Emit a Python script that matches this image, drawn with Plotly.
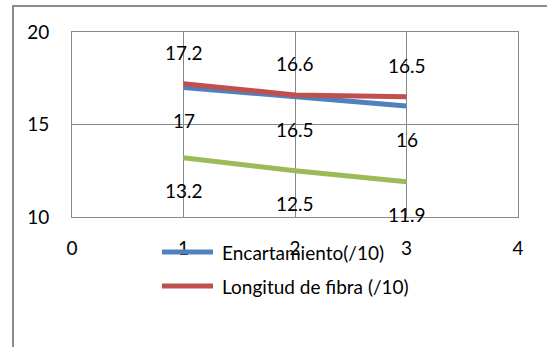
import plotly.graph_objects as go

# Chart data
x_vals = [1, 2, 3]
encartamiento = [17, 16.5, 16]
longitud_fibra = [17.2, 16.6, 16.5]
tercera_serie = [13.2, 12.5, 11.9]
series_names = ["Encartamiento(/10)", "Longitud de fibra (/10)"]
x_ticks = [0, 1, 2, 3, 4]
y_ticks = [10, 15, 20]

BLUE = "#4F81BD"
RED = "#C0504D"
GREEN = "#9BBB59"
GRID = "#898989"
FONT = "Lato"
FSIZE = 19

W, H = 547, 347
L, R, T, B = 72, 518, 32, 217  # plot-area pixel edges
PW, PH = R - L, B - T


def px(xp):
    return (xp - L) / PW


def py(yp):
    return (B - yp) / PH


fig = go.Figure()

series = [
    (encartamiento, BLUE, -33),
    (longitud_fibra, RED, 31),
    (tercera_serie, GREEN, -33),
]
for vals, color, _ in series:
    fig.add_trace(go.Scatter(
        x=x_vals, y=vals, mode="lines",
        line=dict(color=color, width=5),
        showlegend=False, hoverinfo="skip",
    ))

annotations = []
for vals, color, shift in series:
    for xv, yv in zip(x_vals, vals):
        annotations.append(dict(
            x=xv, y=yv, xref="x", yref="y", text=f"{yv:g}",
            showarrow=False, yshift=shift,
            font=dict(family=FONT, size=FSIZE, color="black"),
        ))

# Legend drawn by hand: line sample + label
shapes = []
for name, color, ypix in [(series_names[0], BLUE, 252), (series_names[1], RED, 286)]:
    shapes.append(dict(
        type="line", xref="paper", yref="paper",
        x0=px(162), x1=px(213), y0=py(ypix), y1=py(ypix),
        line=dict(color=color, width=5), layer="above",
    ))
    annotations.append(dict(
        x=px(220), y=py(ypix), xref="paper", yref="paper",
        text=name, showarrow=False, xanchor="left", yanchor="middle",
        font=dict(family=FONT, size=FSIZE, color="black"),
    ))

# Outer chart frame
shapes.append(dict(
    type="rect", xref="paper", yref="paper",
    x0=px(13), x1=px(560), y0=py(6), y1=py(360),
    line=dict(color="#8C8C8C", width=2), layer="below",
))

fig.update_layout(
    width=W, height=H,
    margin=dict(l=L, r=W - R, t=T, b=H - B),
    paper_bgcolor="white", plot_bgcolor="white",
    font=dict(family=FONT, size=FSIZE, color="black"),
    showlegend=False,
    xaxis=dict(
        range=[0, 4], tickvals=x_ticks, ticks="",
        showgrid=True, gridcolor=GRID, gridwidth=1,
        showline=True, linecolor=GRID, linewidth=1, mirror=True,
        zeroline=False, ticklabelstandoff=14,
        tickfont=dict(family=FONT, size=FSIZE, color="black"),
    ),
    yaxis=dict(
        range=[10, 20], tickvals=y_ticks, ticks="",
        showgrid=True, gridcolor=GRID, gridwidth=1,
        showline=True, linecolor=GRID, linewidth=1, mirror=True,
        zeroline=False, ticklabelstandoff=18,
        tickfont=dict(family=FONT, size=FSIZE, color="black"),
    ),
    shapes=shapes,
    annotations=annotations,
)

fig.write_html("out.html")
